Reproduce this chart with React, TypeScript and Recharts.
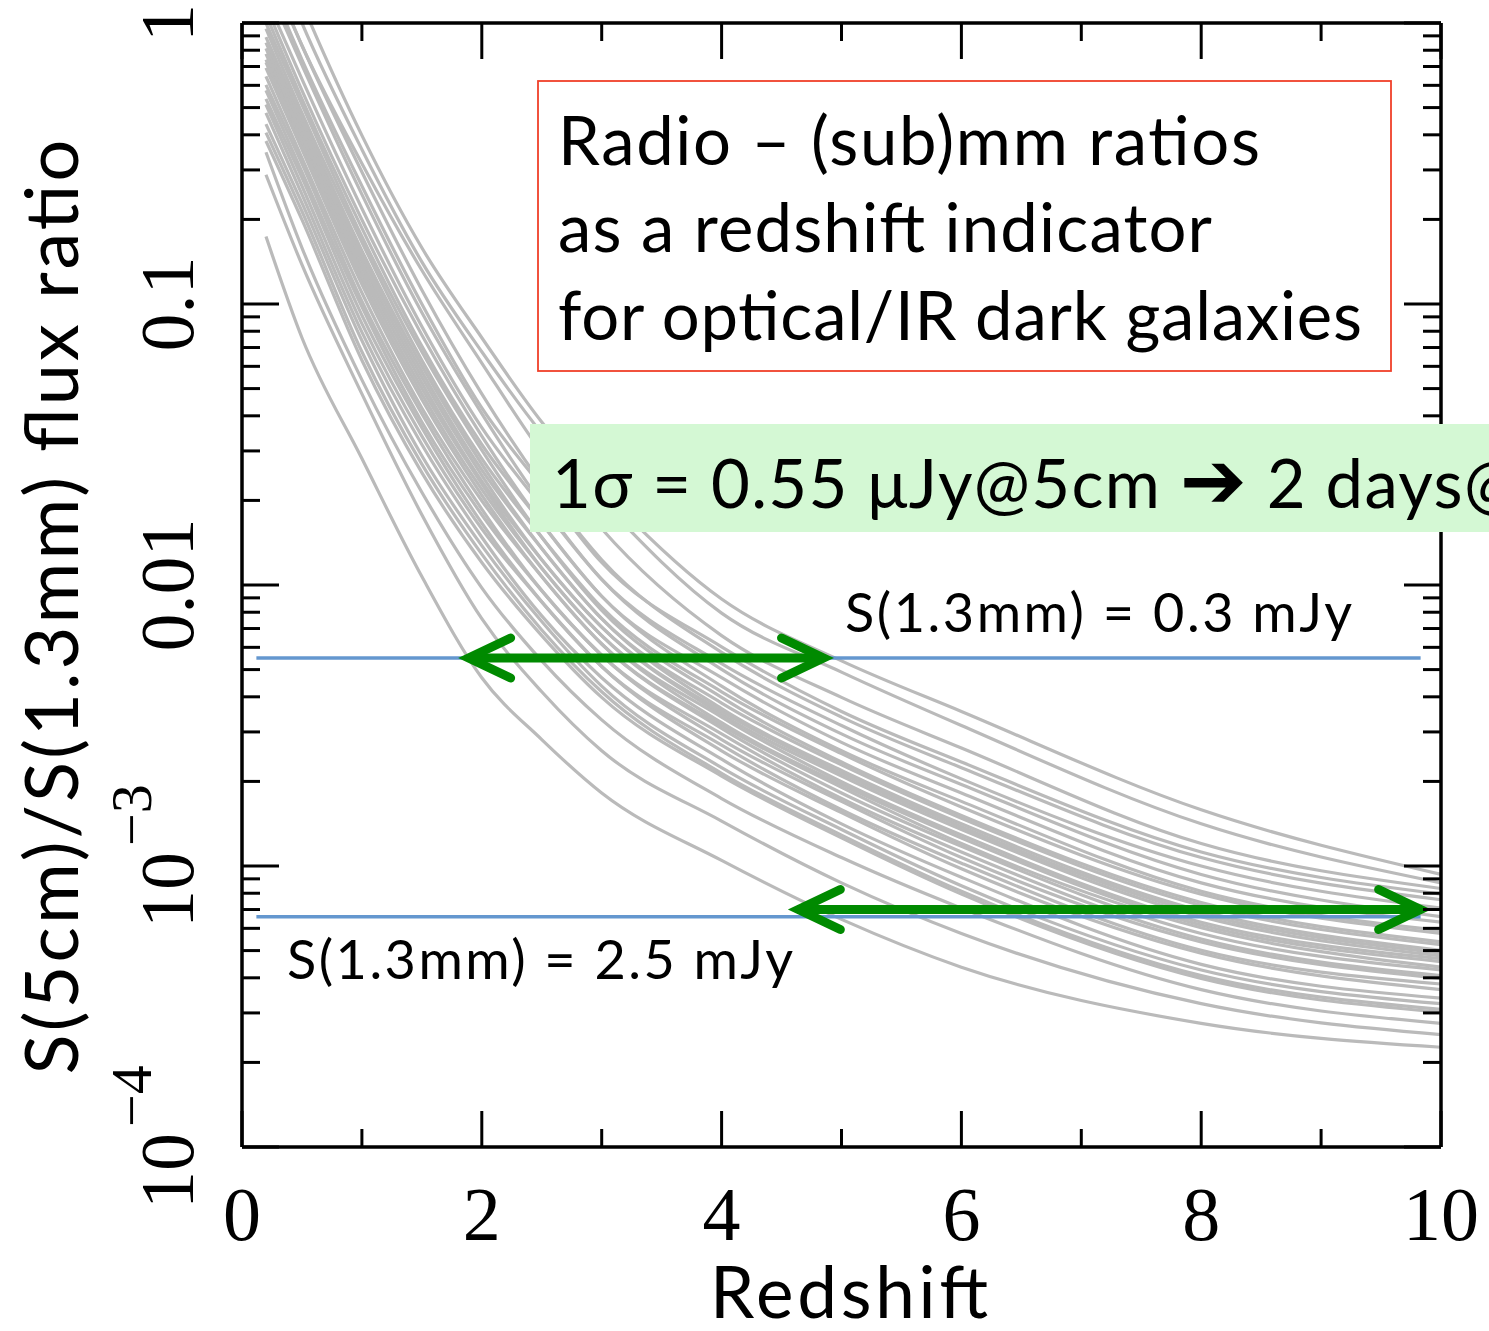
import { Line, LineChart, ReferenceLine, XAxis, YAxis } from "recharts"

// redshift grid the curves were read at
const redshifts = [0.2, 0.5, 1, 1.5, 2, 2.5, 3, 4, 5, 6, 8, 10]

// log10 of S(5cm)/S(1.3mm), one row per template
const upperCurves = [
  [0.38, 0.07, -0.4, -0.8, -1.12, -1.42, -1.66, -2.05, -2.27, -2.45, -2.8, -3.03],
  [0.32, 0.0, -0.45, -0.85, -1.17, -1.46, -1.7, -2.1, -2.31, -2.5, -2.85, -3.06],
  [0.22, -0.08, -0.5, -0.88, -1.21, -1.53, -1.8, -2.18, -2.4, -2.58, -2.92, -3.08],
]

const bundleCurves = [
  [0.22, -0.08, -0.53, -0.95, -1.32, -1.64, -1.91, -2.24, -2.47, -2.65, -2.97, -3.12],
  [0.17, -0.13, -0.58, -1.0, -1.37, -1.65, -1.92, -2.22, -2.45, -2.63, -2.95, -3.1],
  [0.14, -0.15, -0.61, -1.03, -1.39, -1.71, -1.98, -2.3, -2.53, -2.71, -3.03, -3.18],
  [0.09, -0.2, -0.66, -1.08, -1.44, -1.72, -1.98, -2.28, -2.5, -2.69, -3.0, -3.15],
  [0.06, -0.24, -0.7, -1.11, -1.47, -1.78, -2.04, -2.36, -2.59, -2.77, -3.09, -3.23],
  [0.03, -0.27, -0.73, -1.15, -1.5, -1.78, -2.04, -2.33, -2.56, -2.74, -3.06, -3.2],
  [0.0, -0.29, -0.76, -1.17, -1.52, -1.83, -2.09, -2.4, -2.63, -2.82, -3.13, -3.27],
  [-0.02, -0.32, -0.78, -1.2, -1.55, -1.83, -2.08, -2.38, -2.6, -2.79, -3.1, -3.24],
  [-0.05, -0.34, -0.81, -1.22, -1.57, -1.87, -2.12, -2.44, -2.66, -2.85, -3.16, -3.3],
  [-0.07, -0.36, -0.83, -1.24, -1.59, -1.87, -2.12, -2.42, -2.64, -2.83, -3.14, -3.28],
  [-0.09, -0.38, -0.85, -1.26, -1.61, -1.91, -2.15, -2.46, -2.68, -2.87, -3.18, -3.32],
  [-0.11, -0.4, -0.87, -1.28, -1.63, -1.91, -2.15, -2.45, -2.67, -2.86, -3.17, -3.31],
  [-0.13, -0.42, -0.89, -1.3, -1.64, -1.94, -2.18, -2.49, -2.71, -2.9, -3.21, -3.34],
  [-0.14, -0.43, -0.91, -1.32, -1.66, -1.94, -2.18, -2.47, -2.7, -2.89, -3.2, -3.33],
  [-0.16, -0.45, -0.93, -1.34, -1.68, -1.97, -2.21, -2.51, -2.74, -2.93, -3.24, -3.37],
  [-0.19, -0.48, -0.96, -1.37, -1.7, -1.97, -2.21, -2.5, -2.72, -2.92, -3.22, -3.36],
  [-0.22, -0.5, -0.99, -1.39, -1.73, -2.02, -2.25, -2.55, -2.77, -2.97, -3.27, -3.4],
  [-0.24, -0.53, -1.01, -1.42, -1.75, -2.02, -2.25, -2.53, -2.76, -2.95, -3.26, -3.39],
  [-0.27, -0.55, -1.04, -1.44, -1.78, -2.06, -2.29, -2.59, -2.81, -3.01, -3.31, -3.44],
  [-0.29, -0.58, -1.07, -1.47, -1.8, -2.06, -2.29, -2.57, -2.8, -2.99, -3.3, -3.42],
  [-0.32, -0.61, -1.1, -1.5, -1.83, -2.11, -2.33, -2.62, -2.85, -3.04, -3.35, -3.47],
  [-0.36, -0.64, -1.13, -1.54, -1.86, -2.13, -2.36, -2.65, -2.87, -3.07, -3.37, -3.49],
  [-0.39, -0.67, -1.17, -1.57, -1.89, -2.16, -2.38, -2.67, -2.89, -3.09, -3.39, -3.51],
  [-0.42, -0.7, -1.2, -1.6, -1.92, -2.18, -2.4, -2.68, -2.9, -3.1, -3.4, -3.52],
]

const lowerCurves = [
  [-0.46, -0.8, -1.27, -1.67, -2.01, -2.27, -2.48, -2.76, -2.97, -3.15, -3.44, -3.56],
  [-0.54, -0.86, -1.32, -1.75, -2.12, -2.38, -2.59, -2.84, -3.06, -3.24, -3.49, -3.6],
  [-0.76, -1.12, -1.55, -1.97, -2.33, -2.55, -2.74, -2.98, -3.19, -3.36, -3.56, -3.645],
]

// 3 sigma (1.65 uJy) over the 1.3mm flux limits
const limitRatios = [0.0055, 0.00066]
const limitZRange = [0.12, 9.83]
// redshift ranges marked by the arrows
const arrowRanges = [
  { ratio: 0.0055, from: 1.89, to: 4.85 },
  { ratio: 0.0007, from: 4.64, to: 9.83 },
]

const xTicks = [0, 1, 2, 3, 4, 5, 6, 7, 8, 9, 10]
const xLabels = [0, 2, 4, 6, 8, 10]
const yDecades = [0.0001, 0.001, 0.01, 0.1]
const yTicks = [...yDecades.flatMap((d) => [1, 2, 3, 4, 5, 6, 7, 8, 9].map((m) => m * d)), 1]
const yLabels = [
  { value: 0.0001, base: "10", exp: "−4" },
  { value: 0.001, base: "10", exp: "−3" },
  { value: 0.01, base: "0.01" },
  { value: 0.1, base: "0.1" },
  { value: 1, base: "1" },
]

const grayCurves = [...upperCurves, ...bundleCurves, ...lowerCurves]
const chartData = redshifts.map((z, i) => {
  const row: Record<string, number> = { z }
  grayCurves.forEach((c, k) => {
    row[`c${k}`] = Math.pow(10, c[i])
  })
  return row
})

const TICK_FONT = "'Liberation Serif', 'Times New Roman', serif"
const TEXT_FONT = "Lato, 'Noto Sans', sans-serif"

const findLabel = (v: number) => yLabels.find((l) => Math.abs(l.value - v) < l.value * 1e-6)

function BottomTick(props: any) {
  const { x, y, payload } = props
  const major = xLabels.includes(payload.value)
  return (
    <g>
      <line x1={x} y1={y} x2={x} y2={y - (major ? 36 : 18)} stroke="#000" strokeWidth={3} />
      {major && (
        <text x={x} y={y + 93} textAnchor="middle" fontFamily={TICK_FONT} fontSize={76} fill="#000">
          {payload.value}
        </text>
      )}
    </g>
  )
}

function TopTick(props: any) {
  const { x, y, payload } = props
  const major = xLabels.includes(payload.value)
  return <line x1={x} y1={y} x2={x} y2={y + (major ? 36 : 18)} stroke="#000" strokeWidth={3} />
}

function LeftTick(props: any) {
  const { x, y, payload } = props
  const label = findLabel(payload.value)
  const bx = x - 49
  return (
    <g>
      <line x1={x} y1={y} x2={x + (label ? 37 : 18)} y2={y} stroke="#000" strokeWidth={3} />
      {label && !label.exp && (
        <text transform={`translate(${bx},${y}) rotate(-90)`} textAnchor="middle" fontFamily={TICK_FONT} fontSize={76} fill="#000">
          {label.base}
        </text>
      )}
      {label && label.exp && (
        <text transform={`translate(${bx},${y + 62}) rotate(-90)`} textAnchor="start" fontFamily={TICK_FONT} fontSize={76} fill="#000">
          {label.base}
          <tspan dy={-42} dx={6} fontSize={58}>
            {label.exp}
          </tspan>
        </text>
      )}
    </g>
  )
}

function RightTick(props: any) {
  const { x, y, payload } = props
  const major = !!findLabel(payload.value)
  return <line x1={x} y1={y} x2={x - (major ? 37 : 18)} y2={y} stroke="#000" strokeWidth={3} />
}

function DoubleArrow(props: any) {
  const { x1, y1, x2, y2 } = props
  const s = x2 > x1 ? 1 : -1
  const L = 42
  const H = 20
  return (
    <g stroke="#008a00" fill="none" strokeWidth={9} strokeLinecap="round" strokeLinejoin="miter">
      <line x1={x1 + s * 6} y1={y1} x2={x2 - s * 6} y2={y2} strokeLinecap="butt" />
      <polyline points={`${x2 - s * L},${y2 - H} ${x2},${y2} ${x2 - s * L},${y2 + H}`} />
      <polyline points={`${x1 + s * L},${y1 - H} ${x1},${y1} ${x1 + s * L},${y1 + H}`} />
    </g>
  )
}

export default function App() {
  return (
    <div style={{ position: "absolute", left: 0, top: 0, width: 1489, height: 1331, background: "#fff", overflow: "hidden" }}>
      <LineChart width={1489} height={1331} data={chartData} margin={{ top: 0, right: 0, bottom: 154, left: 181 }}>
        <XAxis
          dataKey="z"
          type="number"
          domain={[0, 10]}
          ticks={xTicks}
          interval={0}
          height={30}
          tickSize={0}
          tickMargin={0}
          tickLine={false}
          axisLine={{ stroke: "#000", strokeWidth: 3.5 }}
          tick={<BottomTick />}
        />
        <XAxis
          xAxisId="top"
          orientation="top"
          dataKey="z"
          type="number"
          domain={[0, 10]}
          ticks={xTicks}
          interval={0}
          height={23}
          tickSize={0}
          tickMargin={0}
          tickLine={false}
          axisLine={{ stroke: "#000", strokeWidth: 3.5 }}
          tick={<TopTick />}
        />
        <YAxis
          type="number"
          scale="log"
          domain={[0.0001, 1]}
          allowDataOverflow
          ticks={yTicks}
          interval={0}
          width={61}
          tickSize={0}
          tickMargin={0}
          tickLine={false}
          axisLine={{ stroke: "#000", strokeWidth: 3.5 }}
          tick={<LeftTick />}
        />
        <YAxis
          yAxisId="right"
          orientation="right"
          type="number"
          scale="log"
          domain={[0.0001, 1]}
          allowDataOverflow
          ticks={yTicks}
          interval={0}
          width={48}
          tickSize={0}
          tickMargin={0}
          tickLine={false}
          axisLine={{ stroke: "#000", strokeWidth: 3.5 }}
          tick={<RightTick />}
        />
        {grayCurves.map((_, k) => (
          <Line
            key={k}
            dataKey={`c${k}`}
            type="monotone"
            stroke="#bababa"
            strokeWidth={3.2}
            dot={false}
            activeDot={false}
            isAnimationActive={false}
          />
        ))}
        {limitRatios.map((r) => (
          <ReferenceLine
            key={`lim${r}`}
            segment={[
              { x: limitZRange[0], y: r },
              { x: limitZRange[1], y: r },
            ]}
            stroke="#6497cf"
            strokeWidth={3.5}
          />
        ))}
        {arrowRanges.map((a) => (
          <ReferenceLine
            key={`arr${a.from}`}
            segment={[
              { x: a.from, y: a.ratio },
              { x: a.to, y: a.ratio },
            ]}
            shape={DoubleArrow}
          />
        ))}
      </LineChart>
      <svg width={1489} height={1331} style={{ position: "absolute", left: 0, top: 0, pointerEvents: "none" }}>
        <rect x={538} y={81} width={853} height={290} fill="#fff" stroke="#f0402a" strokeWidth={1.8} />
        <g fontFamily={TEXT_FONT} fontSize={67} fill="#000">
          <text x={558} y={165} textLength={702} lengthAdjust="spacing">Radio – (sub)mm ratios</text>
          <text x={558} y={252} textLength={654} lengthAdjust="spacing">as a redshift indicator</text>
          <text x={558} y={340} textLength={804} lengthAdjust="spacing">for optical/IR dark galaxies</text>
        </g>
        <rect x={530} y={424} width={1000} height={108} fill="#d4f8d4" />
        <text x={552} y={508} fontFamily={TEXT_FONT} fontSize={67} fill="#000" textLength={968} lengthAdjust="spacing">
          1σ = 0.55 μJy@5cm <tspan fontFamily="'DejaVu Sans', sans-serif" fontWeight="bold" fontSize={80}>➔</tspan> 2 days@
        </text>
        <g fontFamily={TEXT_FONT} fontSize={54} fill="#000">
          <text x={845} y={632} textLength={507} lengthAdjust="spacing">S(1.3mm) = 0.3 mJy</text>
          <text x={287} y={979} textLength={506} lengthAdjust="spacing">S(1.3mm) = 2.5 mJy</text>
        </g>
        <text x={849} y={1318} textAnchor="middle" fontFamily={TEXT_FONT} fontSize={71} fill="#000" textLength={278} lengthAdjust="spacing">
          Redshift
        </text>
        <text
          transform="translate(78,607) rotate(-90)"
          textAnchor="middle"
          fontFamily={TEXT_FONT}
          fontSize={74}
          fill="#000"
          textLength={935}
          lengthAdjust="spacing"
        >
          S(5cm)/S(1.3mm) flux ratio
        </text>
      </svg>
    </div>
  )
}
